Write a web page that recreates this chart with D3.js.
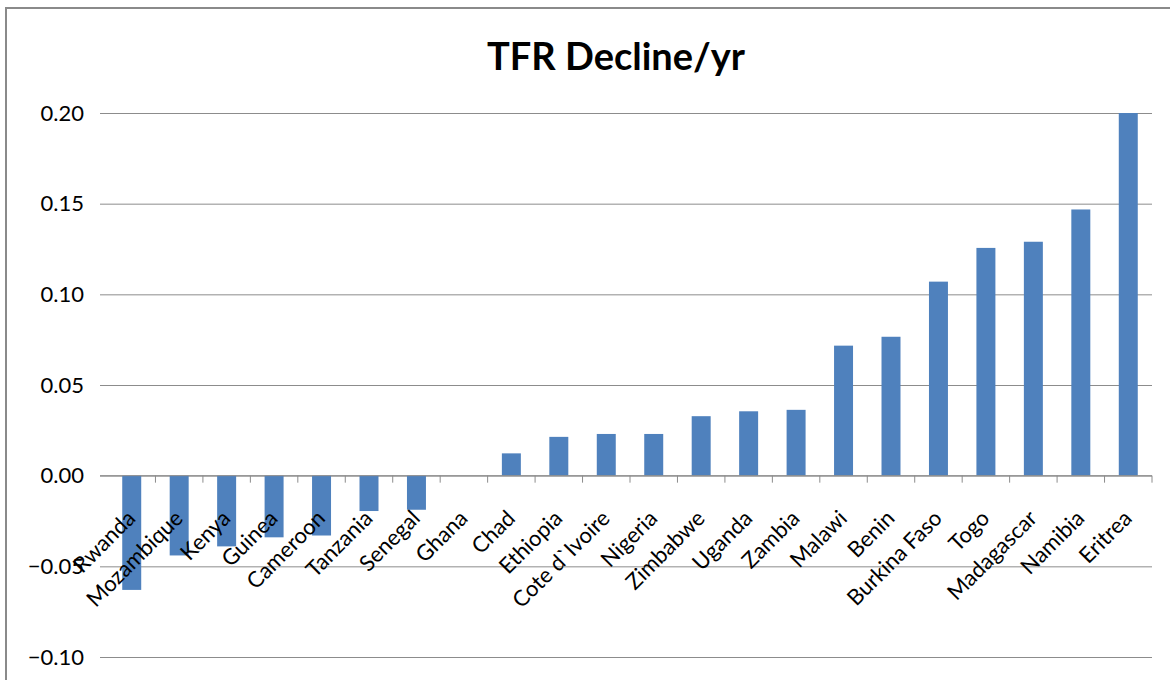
<!DOCTYPE html>
<html>
<head>
<meta charset="utf-8">
<script src="https://cdn.jsdelivr.net/npm/d3@7"></script>
<style>
body { margin: 0; background: #fff; }
</style>
</head>
<body>
<div id="canvas"></div>
<script>
var w = 1170;
var h = 680;

// countries, sorted as in the chart
var countries = ["Rwanda", "Mozambique", "Kenya", "Guinea", "Cameroon", "Tanzania", "Senegal", "Ghana",
                 "Chad", "Ethiopia", "Cote d`Ivoire", "Nigeria", "Zimbabwe", "Uganda", "Zambia",
                 "Malawi", "Benin", "Burkina Faso", "Togo", "Madagascar", "Namibia", "Eritrea"];

// TFR decline per year
var declines = [-0.063, -0.044, -0.039, -0.034, -0.033, -0.0195, -0.0188, 0,
                0.0123, 0.0214, 0.023, 0.023, 0.0328, 0.0355, 0.0363,
                0.0717, 0.0766, 0.107, 0.1256, 0.129, 0.1468, 0.200];

var yTicks = [0.20, 0.15, 0.10, 0.05, 0.00, -0.05, -0.10];

var svg = d3.select("#canvas").append("svg")
    .attr("width", w)
    .attr("height", h)
    .style("background-color", "white");

// outer chart frame (only top and left edges visible)
svg.append("path")
    .attr("d", "M6," + h + "V8H" + w)
    .attr("fill", "none")
    .attr("stroke", "#8a8a8a")
    .attr("stroke-width", 2);

var xScale = d3.scaleBand()
    .domain(countries)
    .range([108, 1152])
    .paddingInner(0.6)
    .paddingOuter(0.3);

var yScale = d3.scaleLinear()
    .domain([-0.10, 0.20])
    .range([657, 113]);

// title
svg.append("text")
    .attr("x", 616)
    .attr("y", 70)
    .attr("text-anchor", "middle")
    .style("font-family", "Lato, 'Open Sans', sans-serif")
    .style("font-weight", "bold")
    .style("font-size", "38px")
    .text("TFR Decline/yr");

// gridlines
var gy = svg.append("g")
    .attr("transform", "translate(1152,0)")
    .call(d3.axisLeft(yScale).tickValues(yTicks).tickSize(1052).tickFormat(""));
gy.select(".domain").remove();
gy.selectAll("line").attr("stroke", "#8c8c8c");

// y labels
var gLabels = svg.append("g")
    .attr("transform", "translate(100,0)")
    .call(d3.axisLeft(yScale).tickValues(yTicks).tickSize(0).tickPadding(16).tickFormat(d3.format(".2f")));
gLabels.select(".domain").remove();
gLabels.selectAll("text")
    .style("font-family", "Lato, 'Open Sans', sans-serif")
    .style("font-size", "22px")
    .attr("fill", "#000");

// bars
svg.append("g")
    .selectAll("rect")
    .data(declines)
    .enter()
    .append("rect")
    .attr("x", function(d, i) { return xScale(countries[i]); })
    .attr("width", xScale.bandwidth())
    .attr("y", function(d) { return yScale(Math.max(0, d)); })
    .attr("height", function(d) { return Math.abs(yScale(d) - yScale(0)); })
    .attr("fill", "#4f81bd");

// zero axis with tick marks between categories
var step = xScale.step();
var boundaries = countries.map(function(c) { return xScale(c) + xScale.bandwidth() / 2 + step / 2; });
var gx = svg.append("g");
gx.append("line")
    .attr("x1", 100).attr("x2", 1152)
    .attr("y1", yScale(0)).attr("y2", yScale(0))
    .attr("stroke", "#8c8c8c");
gx.selectAll(".tk")
    .data(boundaries)
    .enter()
    .append("line")
    .attr("x1", function(d) { return d; })
    .attr("x2", function(d) { return d; })
    .attr("y1", yScale(0))
    .attr("y2", yScale(0) + 7)
    .attr("stroke", "#8c8c8c");

// rotated category labels
svg.append("g")
    .selectAll("text")
    .data(countries)
    .enter()
    .append("text")
    .attr("transform", function(d) {
        return "translate(" + (xScale(d) + xScale.bandwidth() / 2 + 5) + "," + (yScale(0) + 44) + ") rotate(-45)";
    })
    .attr("text-anchor", "end")
    .style("font-family", "Lato, 'Open Sans', sans-serif")
    .style("font-size", "22px")
    .attr("fill", "#000")
    .text(function(d) { return d; });
</script>
</body>
</html>
